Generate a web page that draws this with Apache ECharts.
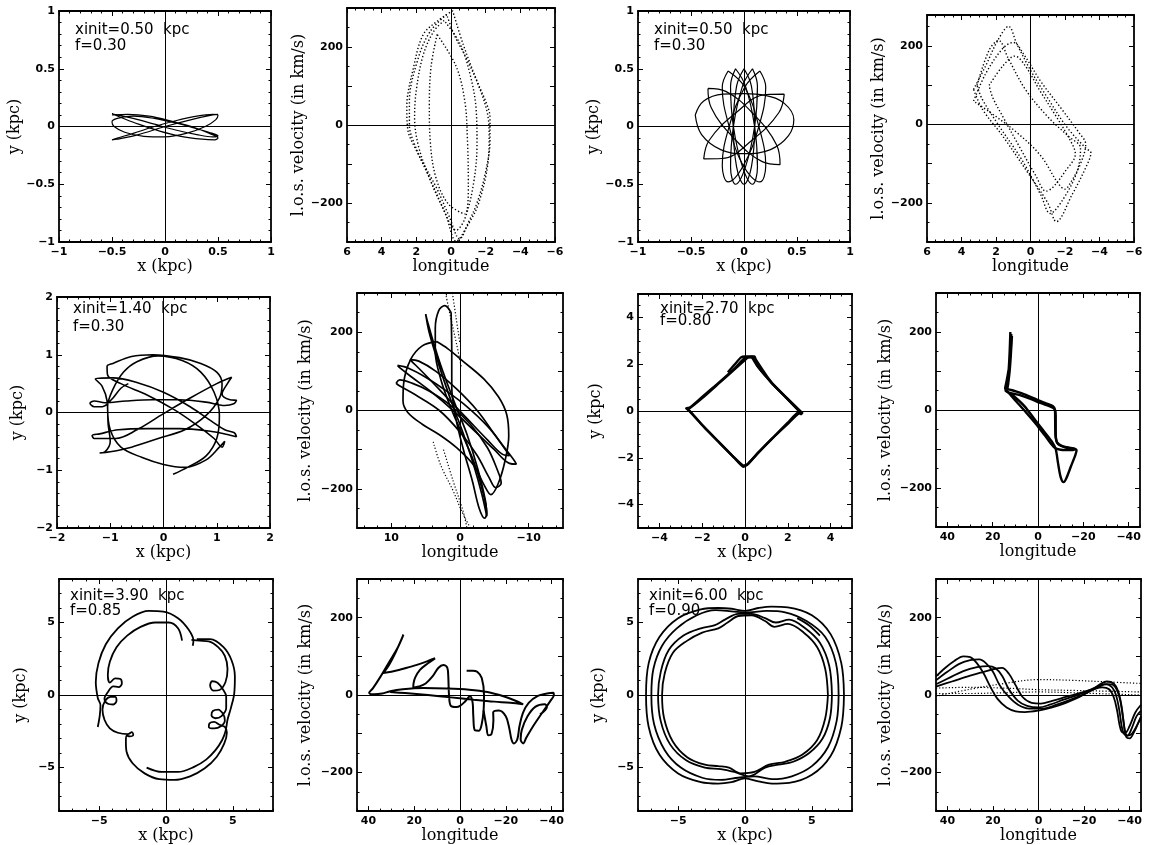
<!DOCTYPE html>
<html><head><meta charset="utf-8">
<script src="https://cdn.jsdelivr.net/npm/echarts@6.0.0/dist/echarts.min.js"></script>
<style>html,body{margin:0;padding:0;background:#fff}#c{width:1149px;height:845px}</style>
</head><body><div id="c"></div>
<script>
// ---------- tick label arrays ----------
const kpc1Labels = [-1, -0.5, 0, 0.5, 1];
const kpc2Labels = [-2, -1, 0, 1, 2];
const kpc5Labels = [-4, -2, 0, 2, 4];
const kpc8Labels = [-5, 0, 5];
const lon6Labels = [6, 4, 2, 0, -2, -4, -6];
const lon15Labels = [10, 0, -10];
const lon45Labels = [40, 20, 0, -20, -40];
const velLabels = [-200, 0, 200];

// ---------- panel notes ----------
const notes = [
  ['xinit=0.50  kpc', 'f=0.30'],
  ['xinit=0.50  kpc', 'f=0.30'],
  ['xinit=1.40  kpc', 'f=0.30'],
  ['xinit=2.70  kpc', 'f=0.80'],
  ['xinit=3.90  kpc', 'f=0.85'],
  ['xinit=6.00  kpc', 'f=0.90']
];

// ---------- data ----------
const p1 = [[[-0.50,0.10],[-0.35,0.105],[-0.15,0.09],[0.05,0.05],[0.25,0.0],[0.42,-0.06],[0.50,-0.10],[0.47,-0.115],[0.35,-0.11],[0.15,-0.085],[-0.05,-0.04],[-0.25,0.02],[-0.42,0.08],[-0.50,0.11],[-0.45,0.1],[-0.3,0.07],[-0.1,0.02],[0.1,-0.03],[0.3,-0.07],[0.45,-0.09],[0.5,-0.08],[0.45,-0.06],[0.3,-0.02],[0.1,0.03],[-0.1,0.07],[-0.3,0.09],[-0.45,0.07],[-0.5,0.04],[-0.48,0.0],[-0.38,-0.05],[-0.2,-0.085],[0,-0.09],[0.2,-0.06],[0.38,0.0],[0.48,0.06],[0.5,0.1],[0.45,0.105],[0.3,0.09],[0.1,0.05],[-0.1,0.0],[-0.3,-0.06],[-0.45,-0.1],[-0.5,-0.115],[-0.45,-0.11],[-0.25,-0.07],[0,0.0],[0.25,0.06],[0.45,0.1],[0.5,0.105]]];

const p2 = [
 [[-0.1,293],[0.8,266],[1.6,232],[2.15,150],[2.55,45],[2.5,-10],[2.0,-65],[0.85,-160],[0.1,-235],[-0.5,-292],[-1.0,-250],[-1.5,-200],[-2.0,-120],[-2.25,-40],[-2.25,20],[-2.05,55],[-1.5,113],[-0.7,207],[-0.1,293]],
 [[0.4,268],[1.0,240],[1.6,180],[2.0,90],[2.1,20],[1.9,-50],[1.3,-130],[0.5,-210],[-0.3,-270],[-0.8,-240],[-1.3,-150],[-1.5,-50],[-1.45,40],[-1.1,130],[-0.5,210],[0.4,268]],
 [[0.8,232],[1.15,150],[1.25,50],[1.2,-40],[0.9,-130],[0.2,-200],[-0.8,-228],[-1.0,-150],[-0.95,-40],[-0.8,60],[-0.3,150],[0.8,232]],
 [[0.25,283],[1.2,240],[1.9,170],[2.4,60],[2.4,0],[2.1,-50],[1.2,-140],[0.3,-230],[-0.3,-298],[-0.9,-262],[-1.6,-200],[-2.15,-90],[-2.2,-30],[-2.1,30],[-1.6,100],[-0.9,170],[-0.2,230],[0.25,283]]
];

const p3 = [
 [[-0.46,0.1],[-0.38,0.22],[-0.2,0.28],[0,0.285],[0.2,0.27],[0.38,0.2],[0.47,0.06],[0.42,-0.08],[0.25,-0.2],[0,-0.235],[-0.22,-0.2],[-0.4,-0.07],[-0.46,0.1]],
 [[0.38,0.28],[0.209,0.277],[-0.084,0.112],[-0.328,-0.119],[-0.38,-0.28],[-0.209,-0.277],[0.084,-0.112],[0.328,0.119],[0.38,0.28]],
 [[-0.34,0.33],[-0.172,0.304],[0.097,0.1],[0.309,-0.163],[0.34,-0.33],[0.172,-0.304],[-0.097,-0.1],[-0.309,0.163],[-0.34,0.33]],
 [[0.15,0.48],[0.205,0.34],[0.14,0],[-0.007,-0.34],[-0.15,-0.48],[-0.205,-0.34],[-0.14,0],[0.007,0.34],[0.15,0.48]],
 [[-0.15,0.48],[0.007,0.34],[0.14,0],[0.205,-0.34],[0.15,-0.48],[-0.007,-0.34],[-0.14,0],[-0.205,0.34],[-0.15,0.48]],
 [[0.08,0.5],[0.127,0.35],[0.1,0],[0.014,-0.35],[-0.08,-0.5],[-0.127,-0.35],[-0.1,0],[-0.014,0.35],[0.08,0.5]],
 [[-0.08,0.5],[0.014,0.35],[0.1,0],[0.127,-0.35],[0.08,-0.5],[-0.014,-0.35],[-0.1,0],[-0.127,0.35],[-0.08,0.5]],
 [[0,0.5],[0.07,0.35],[0.1,0],[0.07,-0.35],[0,-0.5],[-0.07,-0.35],[-0.1,0],[-0.07,0.35],[0,0.5]]
];

const p4 = [
 [[3.3,90],[2.6,150],[1.9,215],[1.27,251],[0.8,207],[0,139],[-0.95,71],[-2.1,-6],[-3.2,-60],[-3.5,-72],[-3.2,-110],[-2.4,-180],[-1.5,-248],[-1.0,-200],[0.2,-120],[1.6,-30],[2.8,40],[3.3,90]],
 [[3.1,100],[2.4,190],[1.85,215],[1.3,170],[0.3,90],[-1.0,20],[-2.2,-30],[-2.9,-60],[-2.7,-120],[-1.9,-190],[-1.14,-227],[-0.6,-180],[0.5,-90],[1.8,-5],[2.8,65],[3.1,100]],
 [[3.3,60],[2.6,130],[1.6,195],[1.0,210],[0.4,180],[-0.6,110],[-1.8,40],[-2.8,-20],[-3.2,-50],[-2.9,-100],[-2.3,-150],[-2.0,-165],[-1.6,-150],[-0.6,-80],[0.8,-20],[2.3,30],[3.3,60]],
 [[2.4,100],[1.6,150],[0.9,175],[0.3,150],[-0.5,90],[-1.5,20],[-2.3,-40],[-2.6,-75],[-2.0,-120],[-1.3,-160],[-0.9,-170],[-0.3,-130],[0.6,-60],[1.6,20],[2.2,70],[2.4,100]]
];

const p5 = [[[-0.66,0.5],[-0.8,0.42],[-0.98,0.22],[-1.15,0.1],[-1.3,0.1],[-1.38,0.16],[-1.3,0.2],[-1.1,0.17],[-0.7,0.2],[-0.2,0.22],[0.3,0.22],[0.8,0.18],[1.15,0.12],[1.32,0.15],[1.37,0.21],[1.25,0.22],[1.1,0.32],[1.2,0.5],[1.28,0.61],[1.0,0.5],[0.5,0.25],[0.0,-0.02],[-0.5,-0.3],[-0.9,-0.45],[-1.15,-0.45],[-1.3,-0.45],[-1.34,-0.4],[-1.2,-0.37],[-0.85,-0.3],[-0.3,-0.28],[0.3,-0.28],[0.85,-0.32],[1.2,-0.38],[1.37,-0.42],[1.33,-0.35],[1.15,-0.3],[0.9,-0.15],[0.5,0.1],[0.0,0.35],[-0.5,0.52],[-0.95,0.6],[-1.28,0.58],[-1.15,0.45],[-1.06,0.2],[-1.04,-0.2],[-1.0,-0.5],[-1.1,-0.68],[-1.2,-0.7],[-1.0,-0.68],[-0.6,-0.6],[-0.1,-0.45],[0.4,-0.3],[0.8,-0.05],[1.05,0.25],[1.1,0.5],[1.0,0.7],[0.7,0.85],[0.3,0.95],[-0.2,1.0],[-0.6,0.97],[-0.95,0.85],[-1.06,0.8],[-1.05,0.65],[-0.8,0.5],[-0.3,0.3],[0.2,0.05],[0.6,-0.2],[0.95,-0.45],[1.1,-0.6],[1.15,-0.5],[1.05,-0.6],[0.8,-0.82],[0.4,-0.95],[0.0,-0.9],[-0.4,-0.78],[-0.8,-0.6],[-1.0,-0.3],[-1.05,0.1],[-0.95,0.4],[-0.75,0.7],[-0.5,0.88],[-0.1,0.98],[0.35,0.9],[0.7,0.7],[0.95,0.35],[1.05,-0.05],[1.0,-0.45],[0.8,-0.75],[0.45,-0.95],[0.18,-1.07]]];

const p6 = [
 [[9.1,115],[7.5,108],[5,85],[2,50],[-1,10],[-4,-40],[-6.5,-95],[-8.0,-130],[-8.2,-137],[-7.2,-135],[-5,-100],[-2,-50],[1,0],[4,45],[7,85],[8.7,108],[9.1,115]],
 [[3.4,176],[5.5,165],[7.2,130],[8.2,70],[8.3,25],[7.6,-5],[5.5,-35],[3,-62],[0.5,-95],[-2,-140],[-3.5,-190],[-4.5,-215],[-5.6,-185],[-6.6,-125],[-7.1,-65],[-6.8,-10],[-5.6,35],[-3.5,80],[-0.5,125],[1.8,158],[3.4,176]],
 [[5.0,246],[4.5,200],[3.5,140],[2.3,75],[1,10],[-0.5,-60],[-2,-140],[-3.2,-215],[-3.9,-270],[-3.7,-230],[-2.6,-150],[-1,-60],[0.8,20],[2.5,100],[3.8,170],[4.7,225],[5.0,246]],
 [[1.3,250],[2.2,268],[3.1,255],[3.6,210],[3.6,150],[2.8,80],[1.4,10],[-0.3,-60],[-2,-130],[-3.2,-200],[-3.9,-262],[-3.6,-275],[-2.8,-250],[-1.8,-180],[-0.5,-100],[0.6,-20],[1.2,60],[1.2,150],[1.3,250]],
 [[9.3,70],[8.8,78],[7.0,70],[4.5,50],[1.5,15],[-1.5,-35],[-4,-95],[-5.4,-150],[-6.0,-185],[-5.2,-197],[-4.2,-170],[-2.5,-115],[0,-55],[3,0],[6.5,40],[9,65],[9.3,70]],
 [[7.3,130],[6,126],[3.5,100],[0.5,55],[-2.5,0],[-5,-60],[-6.8,-105],[-7.2,-115],[-6.2,-112],[-4,-75],[-1,-20],[2,35],[5,90],[7,125],[7.3,130]]
];
const p6dots = [
 [[2.1,300],[1.4,240],[0.5,170],[-0.2,110]],
 [[1.1,300],[0.6,240],[0.0,170]],
 [[3.9,-80],[2.8,-140],[1.0,-205],[-0.2,-255],[-1.5,-300]],
 [[2.4,-100],[1.0,-180],[-0.5,-260],[-1.0,-300]]
];

const p7 = [
 [[2.62,-0.08],[1.95,0.55],[1.2,1.25],[0.55,1.95],[0.3,2.3],[0.05,2.3],[-0.5,1.8],[-1.3,1.15],[-2.0,0.6],[-2.6,0.12],[-2.7,0.1],[-2.55,-0.05],[-1.9,-0.7],[-1.2,-1.35],[-0.5,-2.0],[-0.08,-2.38],[0.1,-2.3],[0.6,-1.8],[1.3,-1.15],[2.0,-0.55],[2.55,-0.1],[2.65,-0.15]],
 [[2.68,-0.15],[2.0,0.5],[1.3,1.15],[0.6,1.9],[0.35,2.32],[0.15,2.3],[-0.4,1.85],[-1.2,1.2],[-2.0,0.55],[-2.55,0.15],[-2.75,0.12],[-2.6,0.02],[-2.0,-0.6],[-1.25,-1.3],[-0.55,-1.95],[-0.05,-2.34],[0.15,-2.25],[0.65,-1.75],[1.35,-1.1],[2.0,-0.5],[2.5,-0.05],[2.62,-0.08]],
 [[-0.8,1.65],[-0.5,1.97],[-0.2,2.28],[0.0,2.33],[0.45,2.33],[0.5,2.2],[1.25,1.2],[2.0,0.52],[2.6,-0.02],[2.7,-0.12]]
];

const p8 = [
 [[12.2,200],[12.5,150],[13,100],[14,62],[14.3,50],[12.5,44],[8,38],[3,28],[-1,18],[-5,10],[-7.3,2],[-7.8,-15],[-7.8,-55],[-8.3,-82],[-11,-93],[-15,-98],[-17,-103],[-16.5,-115],[-14.5,-145],[-12.5,-175],[-11.3,-185],[-10,-172],[-8.8,-135],[-7.8,-100],[-6,-80],[-2,-50],[2,-20],[6,10],[10,32],[13,45],[14.5,55],[14,70],[12.8,110],[12.0,160],[11.8,195]],
 [[11.5,190],[12,140],[12.5,100],[13.2,65],[13.5,55],[11,50],[6,40],[1,28],[-3,18],[-6.5,10],[-7.5,0],[-7.6,-40],[-7.8,-70],[-9,-88],[-13,-97],[-16.5,-100],[-15,-103],[-10,-102],[-7,-95],[-3,-65],[1,-35],[5,-8],[9,18],[12,38],[13.8,50]]
];

const p9 = [
 [[2.0,3.4],[2.05,3.75],[1.7,4.5],[0.9,5.3],[-0.2,5.75],[-1.3,5.8],[-2.5,5.4],[-3.6,4.6],[-4.5,3.5],[-5.05,2.2],[-5.25,0.9],[-5.1,-0.2],[-4.9,-0.7],[-4.95,-1.4],[-5.1,-2.2]],
 [[1.2,3.75],[0.9,4.6],[0.2,5.0],[-0.8,5.0],[-1.9,4.7],[-2.9,4.1],[-3.7,3.3],[-4.2,2.3],[-4.35,1.4],[-4.2,0.85],[-3.8,1.15],[-3.4,1.1],[-3.3,0.8],[-3.55,0.55],[-3.95,0.6],[-4.35,0.2],[-4.6,-0.25],[-4.35,-0.6],[-3.95,-0.65],[-3.7,-0.4],[-3.8,-0.12],[-4.15,-0.12],[-4.55,-0.4],[-4.75,-1.0],[-4.6,-1.7],[-4.2,-2.3],[-3.6,-2.6],[-2.85,-2.7],[-2.55,-2.55],[-2.45,-2.75],[-2.7,-2.85],[-2.95,-2.8],[-3.0,-3.2],[-2.95,-3.9],[-2.5,-4.7],[-1.6,-5.4],[-0.5,-5.8],[0.6,-5.85],[1.8,-5.6],[2.9,-5.05],[3.8,-4.25],[4.35,-3.35],[4.55,-2.6],[4.4,-2.2],[4.0,-2.05],[3.6,-1.85],[3.25,-1.95],[3.2,-2.2],[3.6,-2.3],[4.1,-2.15],[4.4,-1.75],[4.3,-1.35],[3.9,-1.0],[3.5,-1.1],[3.4,-1.4],[3.7,-1.6],[4.15,-1.45],[4.5,-0.9],[4.5,-0.1],[4.25,0.4],[3.85,0.85],[3.45,0.95],[3.3,0.65],[3.55,0.3],[4.0,0.35],[4.45,0.9],[4.6,1.8],[4.4,2.7],[3.9,3.3],[3.2,3.7],[2.5,3.75],[1.9,3.8]],
 [[2.3,3.85],[3.3,3.85],[4.3,3.3],[4.9,2.4],[5.15,1.3],[5.1,0.1],[4.85,-0.9],[4.6,-1.7],[4.45,-2.5],[4.2,-3.1],[3.7,-3.8],[3.0,-4.45],[2.1,-4.95],[0.9,-5.3],[-0.3,-5.3],[-1.45,-5.0]]
];

const p10 = [
 [[-2.9,63],[-5.5,63],[-7.5,60],[-9.5,44],[-10.5,0],[-10.3,-40],[-9.5,-75],[-8.3,-92],[-6.5,-91],[-5.8,-53],[-5.5,-19],[-4.4,-3],[-2,-18],[0,-28],[1.5,-31],[4.0,-28],[4.8,0],[5.1,45],[5.5,70],[7.3,78],[9.5,70],[12,48],[15,30],[18,22],[20.4,19],[20.3,30],[19.6,45],[17.5,65],[14,82],[10.9,95],[14,88],[20,76],[26,66],[30,60],[33.5,57],[31,78],[28,112],[24.7,156],[27,125],[31,85],[35,45],[38,18],[39.7,6],[37.5,2],[34,4],[30.5,10],[25,15],[16,18],[6,17],[-4,14],[-12,8],[-19,-3],[-24,-14],[-27.6,-24],[-22,-20],[-15,-17],[-6,-12],[4,-6],[14,0],[24,5],[30.5,8]],
 [[-10.3,-40],[-11.5,-80],[-12.4,-104],[-13.8,-100],[-14.6,-65],[-14.5,-45],[-17,-40],[-20,-55],[-21.5,-85],[-22.5,-115],[-23.5,-125],[-25,-115],[-26,-80],[-27.6,-45],[-30,-20],[-34,-2],[-38,4],[-40.7,6],[-41,0],[-39.5,-15],[-36,-45],[-32,-80],[-29,-110],[-27.6,-125],[-26.5,-115],[-27,-90],[-29.5,-55],[-33,-30],[-37,-24],[-38,-30],[-35,-50]]
];

const p11 = [
 [[7.4,0],[7.2,2.2],[6.4,4.2],[5.0,5.5],[3.2,6.05],[2.0,6.1],[1.0,6.0],[0,5.8],[-1.0,5.95],[-2.0,6.0],[-3.3,5.9],[-5.0,5.3],[-6.4,4.0],[-7.2,2.2],[-7.4,0],[-7.2,-2.2],[-6.4,-4.1],[-5.0,-5.4],[-3.3,-6.0],[-2.0,-6.1],[-1.0,-6.0],[0,-5.75],[1.0,-5.95],[2.0,-6.1],[3.3,-6.05],[5.0,-5.5],[6.4,-4.2],[7.2,-2.2],[7.4,0]],
 [[7.0,0],[6.8,2.2],[6.0,4.0],[4.6,5.1],[3.0,5.7],[1.6,5.8],[0.3,5.7],[-0.8,5.75],[-2.2,5.85],[-3.6,5.5],[-5.1,4.6],[-6.2,3.4],[-6.85,1.8],[-7.0,0],[-6.8,-2.0],[-6.0,-3.8],[-4.8,-5.0],[-3.2,-5.7],[-1.8,-5.85],[-0.5,-5.7],[0.7,-5.6],[2.0,-5.8],[3.5,-5.6],[5.0,-4.9],[6.2,-3.6],[6.85,-1.8],[7.0,0]],
 [[6.5,0],[6.3,2.0],[5.6,3.6],[4.5,4.6],[3.3,5.2],[2.3,5.0],[1.5,5.3],[0.5,5.6],[-0.5,5.6],[-1.5,5.2],[-2.3,4.8],[-3.3,4.6],[-4.6,4.1],[-5.7,3.1],[-6.3,1.6],[-6.5,0],[-6.3,-1.8],[-5.6,-3.4],[-4.4,-4.5],[-3.0,-5.0],[-1.8,-5.1],[-0.8,-5.3],[0.3,-5.6],[1.5,-5.0],[2.5,-4.8],[3.6,-4.6],[4.8,-4.0],[5.8,-3.0],[6.35,-1.6],[6.5,0]],
 [[6.2,0],[6.0,1.8],[5.4,3.3],[4.4,4.3],[3.2,4.9],[2.2,4.7],[1.5,5.1],[0.5,5.5],[-0.5,5.45],[-1.3,5.0],[-2.0,4.6],[-3.2,4.3],[-4.4,3.7],[-5.4,2.9],[-6.0,1.5],[-6.2,0],[-6.05,-1.6],[-5.4,-3.2],[-4.3,-4.3],[-3.0,-4.8],[-2.0,-4.9],[-1.2,-5.0],[-0.3,-5.4],[0.7,-5.3],[1.8,-4.8],[3.0,-4.6],[4.3,-4.1],[5.4,-3.1],[6.0,-1.6],[6.2,0]],
 [[3.9,5.3],[4.8,4.8],[5.6,4.1]]
];

const p12 = [
 [[45,48],[41,70],[37,88],[33,100],[30,98],[27,82],[24,55],[21,20],[18,-10],[14,-32],[10,-42],[6,-44],[0,-40],[-6,-32],[-12,-20],[-18,-5],[-23,12],[-27,28],[-30,35],[-33,30],[-35,10],[-36.5,-30],[-37.5,-75],[-38.5,-108],[-40,-112],[-42,-95],[-44,-70],[-45,-60]],
 [[45,38],[40,60],[35,80],[30,90],[26,92],[23,82],[20,60],[17,25],[13,-5],[9,-25],[4,-35],[-2,-35],[-8,-25],[-15,-10],[-21,5],[-26,20],[-30,28],[-33,25],[-35.5,-5],[-37,-55],[-38,-95],[-39,-105],[-41,-100],[-43.5,-75],[-45,-55]],
 [[45,28],[39,45],[33,62],[27,72],[22,75],[19,70],[16,50],[13,15],[9,-15],[5,-28],[0,-32],[-5,-25],[-11,-12],[-17,0],[-22,12],[-26,22],[-29,28],[-32,22],[-34,0],[-35.5,-40],[-36.5,-80],[-37.5,-100],[-39,-105],[-41,-85],[-43,-55],[-45,-40]],
 [[45,22],[38,35],[30,50],[24,60],[19,68],[16,70],[13,55],[10,25],[7,-5],[3,-20],[-1,-22],[-6,-15],[-12,-5],[-18,5],[-24,15],[-28,20],[-31,15],[-33,-5],[-34.5,-40],[-35.5,-75],[-36.5,-95],[-38,-98],[-40,-80],[-42.5,-45],[-45,-25]]
];
const p12dots = [
 [[45,-3],[30,15],[15,30],[0,40],[-15,38],[-30,34],[-45,30]],
 [[45,18],[30,20],[15,18],[0,14],[-15,12],[-30,10],[-45,8]],
 [[45,4],[30,4],[15,6],[0,8],[-15,6],[-30,3],[-45,0]]
];

// ---------- helpers ----------
function steps(a, b, s) { const r = []; const n = Math.round((b - a) / s); for (let i = 0; i <= n; i++) r.push(+(a + i * s).toFixed(4)); return r; }
function fmt(v) { return v < 0 ? '\u2212' + String(-v) : String(v); }

const tk = {
  kpc1: { labels: kpc1Labels, major: kpc1Labels, minor: steps(-1, 1, 0.1) },
  kpc2: { labels: kpc2Labels, major: kpc2Labels, minor: steps(-2, 2, 0.2) },
  kpc5: { labels: kpc5Labels, major: kpc5Labels, minor: steps(-5, 5, 0.5) },
  kpc8: { labels: kpc8Labels, major: kpc8Labels, minor: steps(-8, 8, 1) },
  lon6: { labels: lon6Labels, major: lon6Labels, minor: steps(-6, 6, 0.5) },
  lon15: { labels: lon15Labels, major: lon15Labels, minor: steps(-14, 14, 2) },
  lon45: { labels: lon45Labels, major: lon45Labels, minor: steps(-45, 45, 5) },
  vel: { labels: velLabels, major: [-300, -200, -100, 0, 100, 200, 300], minor: steps(-300, 300, 50) }
};

const XK = 'x (kpc)', YK = 'y (kpc)', XL = 'longitude', YV = 'l.o.s. velocity (in km/s)';
const panels = [
  { g: [59, 11, 212, 231], xr: [-1, 1], yr: [-1, 1], xt: tk.kpc1, yt: tk.kpc1, xn: XK, yn: YK, xg: 13, yg: 35, c: [[p1, 1.2, 'solid']], sm: 0.35 },
  { g: [347, 8, 208, 234], xr: [-6, 6], yr: [-300, 300], inv: true, xt: tk.lon6, yt: tk.vel, xn: XL, yn: YV, xg: 12, yg: 33, c: [[p2, 1.4, [1.3, 2.2]]], sm: 0.35 },
  { g: [638, 11, 212, 231], xr: [-1, 1], yr: [-1, 1], xt: tk.kpc1, yt: tk.kpc1, xn: XK, yn: YK, xg: 13, yg: 36, c: [[p3, 1.2, 'solid']], sm: 0.4 },
  { g: [927, 15, 207, 227], xr: [-6, 6], yr: [-300, 280], inv: true, xt: tk.lon6, yt: tk.vel, xn: XL, yn: YV, xg: 12, yg: 36, c: [[p4, 1.4, [1.3, 2.2]]], sm: 0.35 },
  { g: [57, 297, 213, 231], xr: [-2, 2], yr: [-2, 2], xt: tk.kpc2, yt: tk.kpc2, xn: XK, yn: YK, xg: 14, yg: 31, c: [[p5, 1.6, 'solid']], sm: 0.35 },
  { g: [357, 293, 206, 235], xr: [-15, 15], yr: [-300, 300], inv: true, xt: tk.lon15, yt: tk.vel, xn: XL, yn: YV, xg: 13, yg: 43, c: [[p6, 1.7, 'solid'], [p6dots, 1.2, [1.2, 2]]], sm: 0.35 },
  { g: [638, 294, 214, 234], xr: [-5, 5], yr: [-5, 5], xt: tk.kpc5, yt: tk.kpc5, xn: XK, yn: YK, xg: 14, yg: 34, c: [[p7, 2.4, 'solid']], sm: 0.15 },
  { g: [936, 293, 204, 234], xr: [-45, 45], yr: [-300, 300], inv: true, xt: tk.lon45, yt: tk.vel, xn: XL, yn: YV, xg: 13, yg: 42, c: [[p8, 2.4, 'solid']], sm: 0.3 },
  { g: [59, 579, 214, 235], xr: [-8, 8], yr: [-8, 8], xt: tk.kpc8, yt: tk.kpc8, xn: XK, yn: YK, xg: 10, yg: 30, c: [[p9, 1.8, 'solid']], sm: 0.35 },
  { g: [357, 579, 206, 235], xr: [-45, 45], yr: [-300, 300], inv: true, xt: tk.lon45, yt: tk.vel, xn: XL, yn: YV, xg: 10, yg: 43, c: [[p10, 2.0, 'solid']], sm: 0.35 },
  { g: [638, 579, 214, 235], xr: [-8, 8], yr: [-8, 8], xt: tk.kpc8, yt: tk.kpc8, xn: XK, yn: YK, xg: 10, yg: 31, c: [[p11, 1.8, 'solid']], sm: 0.35 },
  { g: [936, 579, 205, 235], xr: [-45, 45], yr: [-300, 300], inv: true, xt: tk.lon45, yt: tk.vel, xn: XL, yn: YV, xg: 10, yg: 42, c: [[p12, 1.8, 'solid'], [p12dots, 1.2, [1.2, 2]]], sm: 0.35 }
];
const notePos = [[75, 23, 39], [654, 23, 39], [73, 302, 320], [660, 302, 314], [70, 589, 604], [649, 589, 604]];

function mkAxes(dim, gi, p) {
  const t = dim === 'x' ? p.xt : p.yt;
  const r = dim === 'x' ? p.xr : p.yr;
  const pos = dim === 'x' ? ['bottom', 'top'] : ['left', 'right'];
  const base = { type: 'value', gridIndex: gi, min: r[0], max: r[1], inverse: dim === 'x' && !!p.inv, offset: 0,
    splitLine: { show: false }, splitArea: { show: false }, minorTick: { show: false }, silent: true };
  const lineOn = { show: true, onZero: false, lineStyle: { color: '#000', width: 1.8 } };
  const lineOff = { show: false, onZero: false };
  const major = { show: true, inside: true, length: 5, customValues: t.major, lineStyle: { color: '#000', width: 1 } };
  const minor = { show: true, inside: true, length: 2.5, customValues: t.minor, lineStyle: { color: '#000', width: 1 } };
  const main = Object.assign({}, base, {
    position: pos[0], axisLine: lineOn, axisTick: major,
    axisLabel: { show: true, customValues: t.labels, formatter: fmt, margin: dim === 'x' ? 5 : 4, color: '#000', fontSize: 11, fontWeight: 'bold', fontFamily: 'DejaVu Sans' },
    name: dim === 'x' ? p.xn : p.yn, nameLocation: 'middle', nameGap: dim === 'x' ? p.xg : p.yg, nameRotate: dim === 'y' ? 90 : 0,
    nameTextStyle: { fontFamily: 'DejaVu Serif', fontSize: 16, color: '#000' }
  });
  return [
    main,
    Object.assign({}, base, { position: pos[0], axisLine: lineOff, axisTick: minor, axisLabel: { show: false } }),
    Object.assign({}, base, { position: pos[1], axisLine: lineOn, axisTick: major, axisLabel: { show: false } }),
    Object.assign({}, base, { position: pos[1], axisLine: lineOff, axisTick: minor, axisLabel: { show: false } })
  ];
}

const grids = [], xAxes = [], yAxes = [], series = [], graphics = [];
panels.forEach((p, i) => {
  grids.push({ left: p.g[0], top: p.g[1], width: p.g[2], height: p.g[3], containLabel: false });
  xAxes.push(...mkAxes('x', i, p));
  yAxes.push(...mkAxes('y', i, p));
  let first = true;
  p.c.forEach(([curves, w, dash]) => {
    curves.forEach(pts => {
      const s = { type: 'line', xAxisIndex: 4 * i, yAxisIndex: 4 * i, data: pts, symbol: 'none', showSymbol: false,
        smooth: p.sm, lineStyle: { color: '#000', width: w, type: dash }, animation: false, silent: true, clip: true, z: 3 };
      if (first) {
        s.markLine = { silent: true, symbol: ['none', 'none'], label: { show: false }, animation: false,
          lineStyle: { color: '#000', width: 1, type: 'solid' }, emphasis: { disabled: true },
          data: [{ xAxis: 0 }, { yAxis: 0 }] };
        first = false;
      }
      series.push(s);
    });
  });
});
notes.forEach((n, k) => {
  const [x, y1, y2] = notePos[k];
  graphics.push({ type: 'text', left: x, top: y1, silent: true, style: { text: n[0], font: '15px "DejaVu Sans"', fill: '#000' } });
  graphics.push({ type: 'text', left: x, top: y2, silent: true, style: { text: n[1], font: '15px "DejaVu Sans"', fill: '#000' } });
});

const chart = echarts.init(document.getElementById('c'), null, { renderer: 'canvas' });
chart.setOption({ animation: false, backgroundColor: '#fff', grid: grids, xAxis: xAxes, yAxis: yAxes, series: series, graphic: graphics });
</script></body></html>
